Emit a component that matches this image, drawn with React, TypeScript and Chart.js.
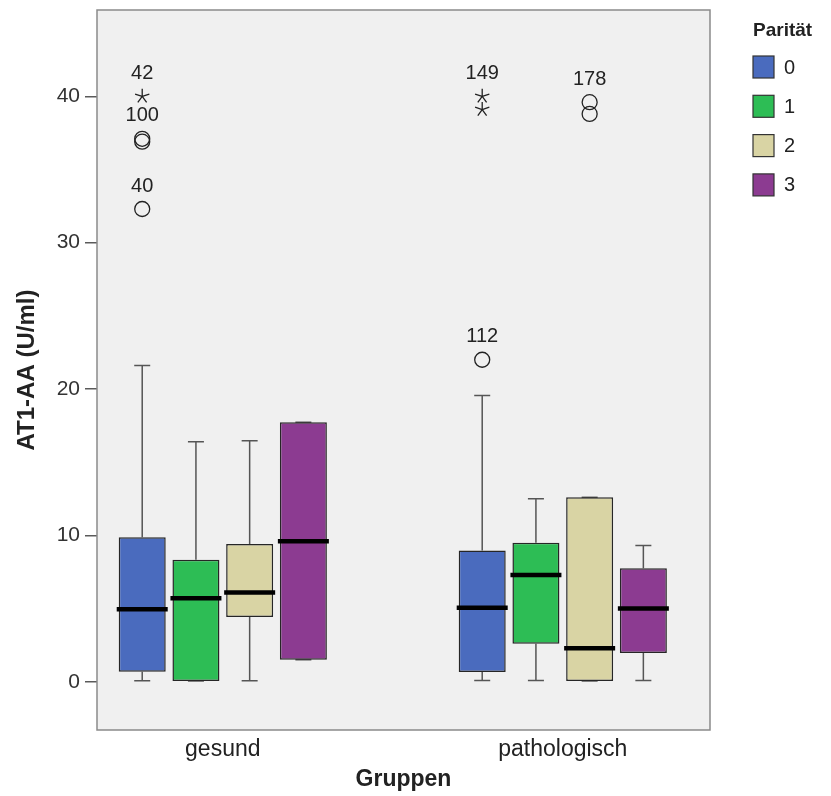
import React, { useEffect, useRef } from 'react';
import { Chart, registerables } from 'chart.js';

Chart.register(...registerables);

// ---- data ----
const groups = ['gesund', 'pathologisch'];
const parities = ['0', '1', '2', '3'];
const yTicks = [0, 10, 20, 30, 40];

// values per parity: [gesund, pathologisch]
const whiskerLowValues = [[0.07, 0.09], [0.05, 0.09], [0.07, 0.05], [1.5, 0.09]];
const q1Values = [[0.68, 0.66], [0.05, 2.6], [4.42, 0.05], [1.5, 1.96]];
const medianValues = [[4.95, 5.06], [5.7, 7.3], [6.1, 2.28], [9.59, 5.01]];
const q3Values = [[9.87, 8.96], [8.34, 9.5], [9.41, 12.6], [17.73, 7.75]];
const whiskerHighValues = [[21.6, 19.56], [16.4, 12.5], [16.46, 12.6], [17.73, 9.3]];

// outliers / extreme values
const outlierGroup = [0, 0, 0, 0, 1, 1, 1, 1, 1];
const outlierParity = [0, 0, 0, 0, 0, 0, 2, 2, 0];
const outlierValues = [40.0, 37.1, 36.9, 32.3, 40.0, 39.1, 39.6, 38.8, 22.0];
const outlierShapes = ['star', 'circle', 'circle', 'circle', 'star', 'star', 'circle', 'circle', 'circle'];
const outlierLabels = ['42', '100', '', '40', '149', '', '178', '', '112'];

// ---- styles ----
const colors = ['#4A6BBE', '#2DBD55', '#D9D4A4', '#8C3B91'];
const FONT = "'Liberation Sans', Arial, Helvetica, sans-serif";
const TEXT = '#222222';

const boxPlugin = {
  id: 'spssBoxplot',
  beforeDraw(chart: any) {
    const { ctx, chartArea: a } = chart;
    ctx.save();
    ctx.fillStyle = '#f0f0f0';
    ctx.fillRect(a.left, a.top, a.right - a.left, a.bottom - a.top);
    ctx.restore();
  },
  beforeDatasetsDraw(chart: any) {
    const { ctx } = chart;
    const y = chart.scales.y;
    ctx.save();
    ctx.strokeStyle = '#555555';
    ctx.lineWidth = 1.5;
    parities.forEach((_, k) => {
      const meta = chart.getDatasetMeta(k);
      groups.forEach((__, g) => {
        const el: any = meta.data[g];
        if (!el) return;
        const x = el.x;
        const capHalf = 8;
        const segs = [
          [q3Values[k][g], whiskerHighValues[k][g]],
          [q1Values[k][g], whiskerLowValues[k][g]],
        ];
        segs.forEach(([from, to]) => {
          const p1 = y.getPixelForValue(from);
          const p2 = y.getPixelForValue(to);
          ctx.beginPath();
          ctx.moveTo(x, p1);
          ctx.lineTo(x, p2);
          ctx.moveTo(x - capHalf, p2);
          ctx.lineTo(x + capHalf, p2);
          ctx.stroke();
        });
      });
    });
    ctx.restore();
  },
  afterDatasetsDraw(chart: any) {
    const { ctx, chartArea: a } = chart;
    const y = chart.scales.y;
    ctx.save();
    // medians
    ctx.strokeStyle = '#000000';
    ctx.lineWidth = 4.5;
    parities.forEach((_, k) => {
      const meta = chart.getDatasetMeta(k);
      groups.forEach((__, g) => {
        const el: any = meta.data[g];
        if (!el) return;
        const py = y.getPixelForValue(medianValues[k][g]);
        const half = el.width / 2 + 2;
        ctx.beginPath();
        ctx.moveTo(el.x - half, py);
        ctx.lineTo(el.x + half, py);
        ctx.stroke();
      });
    });
    // outliers
    ctx.strokeStyle = '#222222';
    ctx.lineWidth = 1.3;
    ctx.font = `20px ${FONT}`;
    ctx.fillStyle = TEXT;
    ctx.textAlign = 'center';
    ctx.textBaseline = 'middle';
    outlierValues.forEach((v, i) => {
      const el: any = chart.getDatasetMeta(outlierParity[i]).data[outlierGroup[i]];
      if (!el) return;
      const px = el.x;
      const py = y.getPixelForValue(v);
      const r = 7.5;
      ctx.beginPath();
      if (outlierShapes[i] === 'circle') {
        ctx.arc(px, py, r, 0, Math.PI * 2);
      } else {
        for (let j = 0; j < 5; j++) {
          const ang = -Math.PI / 2 + (j * 2 * Math.PI) / 5;
          ctx.moveTo(px, py);
          ctx.lineTo(px + Math.cos(ang) * r, py + Math.sin(ang) * r);
        }
      }
      ctx.stroke();
      if (outlierLabels[i]) {
        ctx.fillText(outlierLabels[i], px, py - 23);
      }
    });
    // frame
    ctx.strokeStyle = '#8a8a8a';
    ctx.lineWidth = 1.5;
    ctx.strokeRect(a.left, a.top, a.right - a.left, a.bottom - a.top);
    ctx.restore();
  },
  afterDraw(chart: any) {
    const { ctx, chartArea: a } = chart;
    ctx.save();
    const lx = a.right + 43;
    ctx.fillStyle = TEXT;
    ctx.textAlign = 'left';
    ctx.textBaseline = 'middle';
    ctx.font = `bold 19px ${FONT}`;
    ctx.fillText('Parität', lx, 31);
    ctx.font = `20px ${FONT}`;
    parities.forEach((p, k) => {
      const cy = 67 + k * 39.3;
      ctx.fillStyle = colors[k];
      ctx.fillRect(lx, cy - 11, 21, 22);
      ctx.strokeStyle = '#333333';
      ctx.lineWidth = 1.2;
      ctx.strokeRect(lx, cy - 11, 21, 22);
      ctx.fillStyle = TEXT;
      ctx.fillText(p, lx + 31, cy + 1);
    });
    ctx.restore();
  },
};

export default function App() {
  const ref = useRef<HTMLCanvasElement>(null);
  useEffect(() => {
    if (!ref.current) return;
    const chart = new Chart(ref.current, {
      type: 'bar',
      data: {
        datasets: parities.map((p, k) => ({
          label: p,
          data: groups.map((_, g) => ({ x: g, y: [q1Values[k][g], q3Values[k][g]] })),
          backgroundColor: colors[k],
          borderColor: '#262626',
          borderWidth: 1.5,
          borderSkipped: false,
          categoryPercentage: 0.632,
          barPercentage: 0.875,
        })),
      } as any,
      options: {
        animation: false,
        responsive: false,
        maintainAspectRatio: false,
        layout: { padding: { top: 10, right: 121, bottom: 0, left: 0 } },
        plugins: { legend: { display: false }, tooltip: { enabled: false } },
        scales: {
          x: {
            type: 'linear',
            min: -0.37,
            max: 1.433,
            offset: false,
            grid: { display: false, drawTicks: false },
            border: { display: false },
            afterBuildTicks: (s: any) => {
              s.ticks = groups.map((_, i) => ({ value: i }));
            },
            afterFit: (s: any) => {
              s.height = 66;
              s.paddingLeft = 0;
              s.paddingRight = 0;
            },
            ticks: {
              callback: (v: any) => groups[v as number] ?? '',
              font: { family: FONT, size: 23 },
              color: TEXT,
              padding: 6,
              maxRotation: 0,
              autoSkip: false,
            },
            title: {
              display: true,
              text: 'Gruppen',
              font: { family: FONT, size: 23, weight: 'bold' },
              color: TEXT,
              padding: { top: 0, bottom: 3 },
            },
          },
          y: {
            type: 'linear',
            min: -3.3,
            max: 45.9,
            afterBuildTicks: (s: any) => {
              s.ticks = yTicks.map((v) => ({ value: v }));
            },
            afterFit: (s: any) => {
              s.width = 97;
              s.paddingTop = 0;
              s.paddingBottom = 0;
            },
            grid: { drawOnChartArea: false, tickLength: 12, color: '#5a5a5a', lineWidth: 1.5 },
            border: { display: false },
            ticks: {
              font: { family: FONT, size: 21 },
              color: '#333333',
              padding: 5,
            },
            title: {
              display: true,
              text: 'AT1-AA (U/ml)',
              font: { family: FONT, size: 24, weight: 'bold' },
              color: TEXT,
              padding: { top: 12.6, bottom: 0 },
            },
          },
        },
      } as any,
      plugins: [boxPlugin],
    });
    return () => chart.destroy();
  }, []);
  return (
    <div style={{ position: 'absolute', left: 0, top: 0, width: 831, height: 796, background: '#ffffff' }}>
      <canvas ref={ref} width={831} height={796} style={{ display: 'block' }} />
    </div>
  );
}
